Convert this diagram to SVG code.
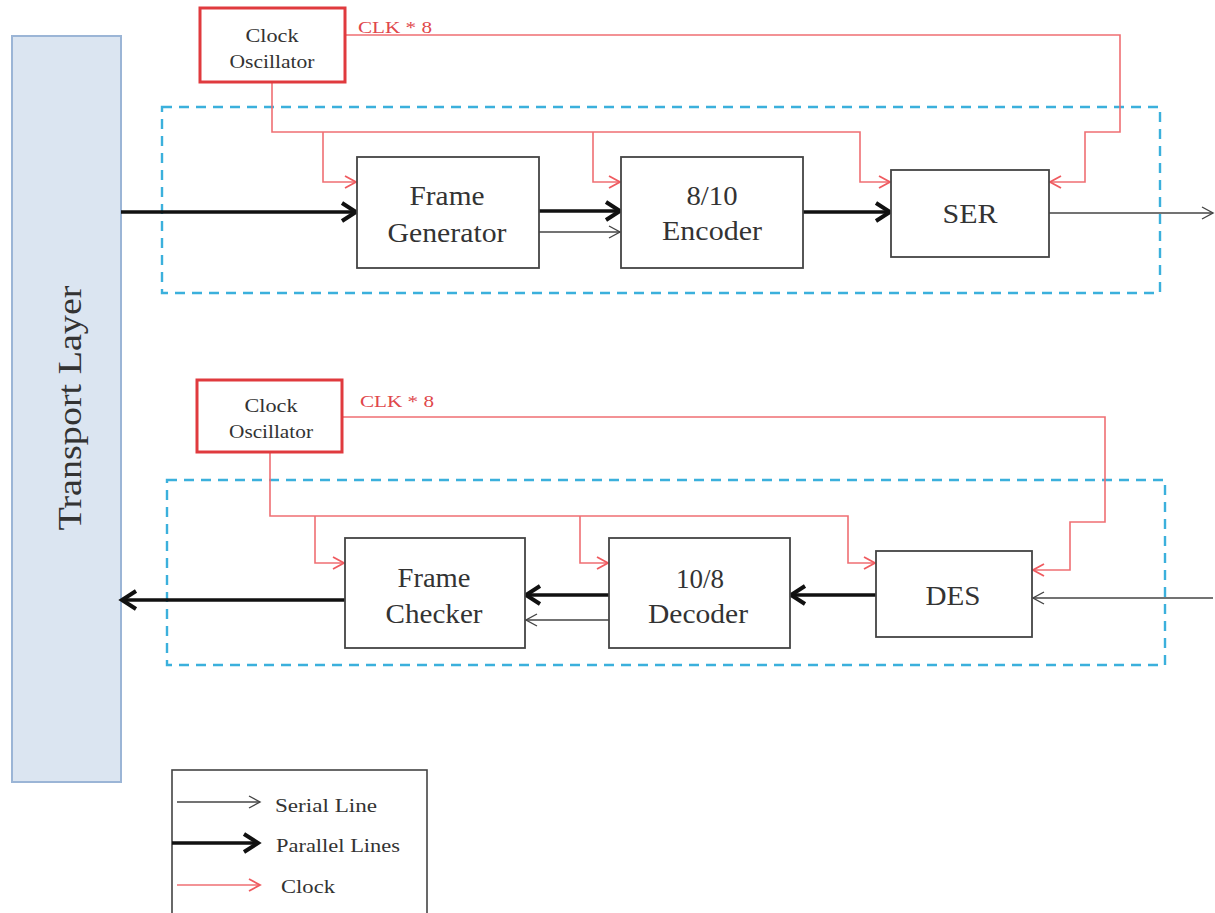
<svg xmlns="http://www.w3.org/2000/svg" width="1215" height="913" viewBox="0 0 1215 913">
<style>
.box{fill:#fff;stroke:#444;stroke-width:1.8}
.osc{fill:#fff;stroke:#e03a3e;stroke-width:3}
.dash{fill:none;stroke:#3bb0dc;stroke-width:2.4;stroke-dasharray:10 7}
.clk{fill:none;stroke:#ef6f73;stroke-width:1.6}
.par{fill:none;stroke:#111;stroke-width:3.6}
.ser{fill:none;stroke:#444;stroke-width:1.3}
.t{font-family:"Liberation Serif",serif;fill:#333;text-anchor:middle}
.lbl{font-family:"Liberation Serif",serif;fill:#333;font-size:19px}
.clkt{font-family:"Liberation Serif",serif;fill:#e0474b;font-size:16px}
.bt{font-size:27px}
.ot{font-size:19px}
</style>
<defs>
<marker id="mPar" markerWidth="22" markerHeight="26" refX="18" refY="13" orient="auto" markerUnits="userSpaceOnUse"><path d="M4,4 L18,13 L4,22" fill="none" stroke="#111" stroke-width="4"/></marker>
<marker id="mSer" markerWidth="16" markerHeight="16" refX="13" refY="8" orient="auto" markerUnits="userSpaceOnUse"><path d="M2,2 L13,8 L2,14" fill="none" stroke="#444" stroke-width="1.4"/></marker>
<marker id="mClk" markerWidth="16" markerHeight="16" refX="13" refY="8" orient="auto" markerUnits="userSpaceOnUse"><path d="M2,2 L13,8 L2,14" fill="none" stroke="#ef5a5f" stroke-width="1.8"/></marker>
</defs>
<rect width="1215" height="913" fill="#fff"/>

<g id="boundaries">
<rect class="dash" x="162" y="107" width="998" height="186"/>
<rect class="dash" x="167" y="480" width="998" height="185"/>
</g>

<g id="transport-layer">
<rect x="12" y="36" width="109" height="746" fill="#dbe5f1" stroke="#9bb5d6" stroke-width="2"/>
<text class="t" transform="translate(81,408) rotate(-90)" font-size="34" textLength="245" lengthAdjust="spacingAndGlyphs">Transport Layer</text>
</g>

<g id="connectors">
<path class="clk" d="M345,35 H1120 V132 H1085 V182 H1050" marker-end="url(#mClk)"/>
<path class="clk" d="M272,82 V132 H860 V182 H890" marker-end="url(#mClk)"/>
<path class="clk" d="M323,132 V182 H356" marker-end="url(#mClk)"/>
<path class="clk" d="M593,132 V182 H620" marker-end="url(#mClk)"/>
<path class="par" d="M121,212 H356" marker-end="url(#mPar)"/>
<path class="par" d="M539,211 H620" marker-end="url(#mPar)"/>
<path class="ser" d="M539,232 H620" marker-end="url(#mSer)"/>
<path class="par" d="M803,212 H890" marker-end="url(#mPar)"/>
<path class="ser" d="M1049,213 H1213" marker-end="url(#mSer)"/>
<path class="clk" d="M342,417 H1105 V522 H1070 V570 H1033" marker-end="url(#mClk)"/>
<path class="clk" d="M270,452 V516 H848 V563 H875" marker-end="url(#mClk)"/>
<path class="clk" d="M315,516 V563 H344" marker-end="url(#mClk)"/>
<path class="clk" d="M580,516 V563 H608" marker-end="url(#mClk)"/>
<path class="ser" d="M1213,598 H1033" marker-end="url(#mSer)"/>
<path class="par" d="M876,595 H791" marker-end="url(#mPar)"/>
<path class="par" d="M609,595 H526" marker-end="url(#mPar)"/>
<path class="ser" d="M609,620 H526" marker-end="url(#mSer)"/>
<path class="par" d="M345,600 H122" marker-end="url(#mPar)"/>
</g>

<g id="clock-osc-tx">
<rect class="osc" x="200" y="8" width="145" height="74"/>
<text class="t ot" x="272" y="42" textLength="53" lengthAdjust="spacingAndGlyphs">Clock</text>
<text class="t ot" x="272" y="68" textLength="85" lengthAdjust="spacingAndGlyphs">Oscillator</text>
<text class="clkt" x="358" y="33" textLength="74" lengthAdjust="spacingAndGlyphs">CLK * 8</text>
</g>

<g id="frame-generator">
<rect class="box" x="357" y="157" width="182" height="111"/>
<text class="t bt" x="447" y="205" textLength="75" lengthAdjust="spacingAndGlyphs">Frame</text>
<text class="t bt" x="447" y="242" textLength="119" lengthAdjust="spacingAndGlyphs">Generator</text>
</g>

<g id="encoder">
<rect class="box" x="621" y="157" width="182" height="111"/>
<text class="t bt" x="712" y="205" textLength="51" lengthAdjust="spacingAndGlyphs">8/10</text>
<text class="t bt" x="712" y="240" textLength="100" lengthAdjust="spacingAndGlyphs">Encoder</text>
</g>

<g id="ser">
<rect class="box" x="891" y="170" width="158" height="87"/>
<text class="t bt" x="970" y="223" textLength="55" lengthAdjust="spacingAndGlyphs">SER</text>
</g>

<g id="clock-osc-rx">
<rect class="osc" x="197" y="380" width="145" height="72"/>
<text class="t ot" x="271" y="412" textLength="53" lengthAdjust="spacingAndGlyphs">Clock</text>
<text class="t ot" x="271" y="438" textLength="84" lengthAdjust="spacingAndGlyphs">Oscillator</text>
<text class="clkt" x="360" y="407" textLength="74" lengthAdjust="spacingAndGlyphs">CLK * 8</text>
</g>

<g id="frame-checker">
<rect class="box" x="345" y="538" width="180" height="110"/>
<text class="t bt" x="434" y="587" textLength="73" lengthAdjust="spacingAndGlyphs">Frame</text>
<text class="t bt" x="434" y="623" textLength="97" lengthAdjust="spacingAndGlyphs">Checker</text>
</g>

<g id="decoder">
<rect class="box" x="609" y="538" width="181" height="110"/>
<text class="t bt" x="700" y="588" textLength="48" lengthAdjust="spacingAndGlyphs">10/8</text>
<text class="t bt" x="698" y="623" textLength="100" lengthAdjust="spacingAndGlyphs">Decoder</text>
</g>

<g id="des">
<rect class="box" x="876" y="551" width="156" height="86"/>
<text class="t bt" x="953" y="605" textLength="55" lengthAdjust="spacingAndGlyphs">DES</text>
</g>

<g id="legend">
<rect x="172" y="770" width="255" height="160" fill="#fff" stroke="#444" stroke-width="1.6"/>
<path class="ser" d="M177,802 H260" marker-end="url(#mSer)"/>
<text class="lbl" x="275" y="812" textLength="102" lengthAdjust="spacingAndGlyphs">Serial Line</text>
<path class="par" d="M172,843 H258" marker-end="url(#mPar)"/>
<text class="lbl" x="276" y="852" textLength="124" lengthAdjust="spacingAndGlyphs">Parallel Lines</text>
<path class="clk" d="M177,885 H260" marker-end="url(#mClk)"/>
<text class="lbl" x="281" y="893" textLength="54" lengthAdjust="spacingAndGlyphs">Clock</text>
</g>
</svg>
